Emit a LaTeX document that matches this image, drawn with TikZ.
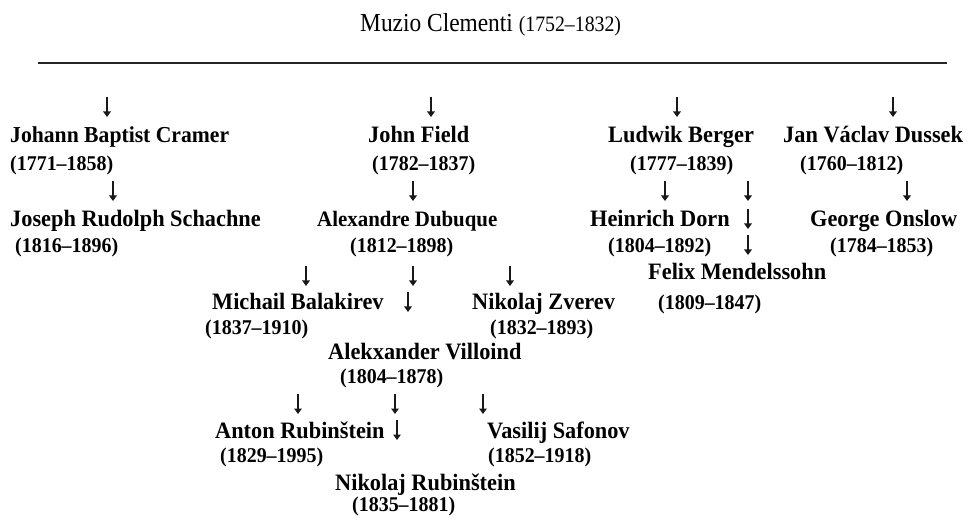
\documentclass[tikz,border=0pt]{standalone}
\usepackage{fontspec}
\usetikzlibrary{arrows.meta}
\setmainfont{Liberation Serif}
\newfontfamily\treefont[FakeStretch=0.95]{Liberation Serif}
\newfontfamily\headfont[FakeStretch=0.9]{Liberation Serif}

\tikzset{
  person/.style={anchor=base west, inner sep=0pt, font=\treefont\bfseries\fontsize{23.5}{26}\selectfont},
  smallperson/.style={person, font=\treefont\bfseries\fontsize{22}{26}\selectfont},
  lifespan/.style={anchor=base west, inner sep=0pt, font=\treefont\bfseries\fontsize{21}{24}\selectfont},
  darr/.style={line width=1.4pt, draw=black!90, -{Triangle[width=7.5pt,length=5.5pt]}},
  rule/.style={line width=2.2pt, draw=black!85}
}

\begin{document}
\begin{tikzpicture}[x=1pt, y=-1pt]
  \useasboundingbox (0,0) rectangle (969,518);

  % teacher and rule
  \node[anchor=base west, inner sep=0pt] (clementi) at (360,32)
    {\headfont\fontsize{26}{28}\selectfont Muzio Clementi {\fontsize{22}{24}\selectfont (1752–1832)}};
  \coordinate (ruleL) at (38,63);
  \coordinate (ruleR) at (947,63);
  \draw[rule] (ruleL) -- (ruleR);

  % Cramer branch
  \node[smallperson, font=\treefont\bfseries\fontsize{22.8}{26}\selectfont] (cramer) at (10,143) {Johann Baptist Cramer};
  \node[lifespan] (cramerY) at (10,171) {(1771–1858)};
  \node[person] (schachne) at (10,227) {Joseph Rudolph Schachne};
  \node[lifespan] (schachneY) at (15,253) {(1816–1896)};

  % Field branch
  \node[person] (field) at (368,143) {John Field};
  \node[lifespan] (fieldY) at (372,171) {(1782–1837)};
  \node[smallperson] (dubuque) at (317,227) {Alexandre Dubuque};
  \node[lifespan] (dubuqueY) at (350,253) {(1812–1898)};
  \node[person] (balakirev) at (212,310) {Michail Balakirev};
  \node[person] (zverev) at (472,310) {Nikolaj Zverev};
  \node[lifespan] (balakirevY) at (205,335) {(1837–1910)};
  \node[lifespan] (zverevY) at (490,335) {(1832–1893)};
  \node[person] (villoind) at (328,360) {Alekxander Villoind};
  \node[lifespan] (villoindY) at (340,384) {(1804–1878)};
  \node[person] (anton) at (215,438) {Anton Rubinštein};
  \node[person] (safonov) at (487,438) {Vasilij Safonov};
  \node[lifespan] (antonY) at (220,462) {(1829–1995)};
  \node[lifespan] (safonovY) at (488,462) {(1852–1918)};
  \node[person] (nikolaj) at (335,490) {Nikolaj Rubinštein};
  \node[lifespan] (nikolajY) at (352,511) {(1835–1881)};

  % Berger branch
  \node[person] (berger) at (608,143) {Ludwik Berger};
  \node[lifespan] (bergerY) at (630,171) {(1777–1839)};
  \node[person] (dorn) at (590,227) {Heinrich Dorn};
  \node[lifespan] (dornY) at (608,253) {(1804–1892)};
  \node[person] (felix) at (648,280) {Felix Mendelssohn};
  \node[lifespan] (felixY) at (658,310) {(1809–1847)};

  % Dussek branch
  \node[person] (dussek) at (783,143) {Jan Václav Dussek};
  \node[lifespan] (dussekY) at (800,171) {(1760–1812)};
  \node[person] (onslow) at (810,227) {George Onslow};
  \node[lifespan] (onslowY) at (830,253) {(1784–1853)};

  % small down arrows: name / x / y of the tip
  \foreach \n/\x/\y in {
      a1/107/117, a2/113/201,
      a3/431/117, a4/413/201,
      a5/306/286, a6/413/286, a7/510/286, a8/408/312,
      a9/298/414, a10/395/414, a11/483/414, a12/397/440,
      a13/677/117, a14/665/201, a15/748/201, a16/748/229, a17/748/255,
      a18/893/117, a19/907/201} {
    \coordinate (\n top) at (\x,\y-20);
    \coordinate (\n tip) at (\x,\y);
    \draw[darr] (\n top) -- (\n tip);
  }
\end{tikzpicture}
\end{document}
